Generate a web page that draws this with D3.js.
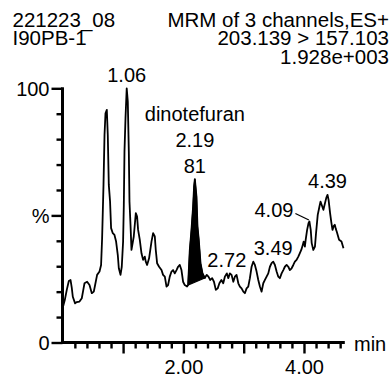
<!DOCTYPE html>
<html>
<head>
<meta charset="utf-8">
<script src="https://cdn.jsdelivr.net/npm/d3@7"></script>
<style>
  html, body { margin: 0; padding: 0; background: #fff; }
  svg { display: block; font-family: "Liberation Sans", Arial, sans-serif; }
  .axis text { font-size: 20px; fill: #000; font-family: "Liberation Sans", Arial, sans-serif; }
</style>
</head>
<body>
<svg id="chart" width="391" height="382"></svg>
<script>
// MRM chromatogram, 203.139 > 157.103 transition (relative intensity, %)
const headerLeft = ["221223_08", "I90PB-1"];
const headerRight = ["MRM of 3 channels,ES+", "203.139 > 157.103", "1.928e+003"];

// retention time (min)
const rt = [
  0.008,0.033,0.066,0.100,0.128,0.149,0.166,0.204,0.232,0.277,
  0.315,0.340,0.360,0.403,0.443,0.481,0.514,0.536,0.569,0.609,
  0.635,0.652,0.675,0.692,0.708,0.730,0.746,0.763,0.784,0.801,
  0.829,0.857,0.884,0.912,0.929,0.957,0.978,1.000,1.012,1.023,
  1.040,1.060,1.078,1.095,1.106,1.123,1.139,1.177,1.211,1.232,
  1.249,1.277,1.305,1.332,1.360,1.376,1.398,1.431,1.471,1.498,
  1.526,1.542,1.564,1.597,1.637,1.663,1.692,1.720,1.746,1.774,
  1.803,1.829,1.857,1.886,1.912,1.940,1.968,1.995,2.023,2.061,
  2.078,2.106,2.134,2.161,2.177,2.190,2.217,2.234,2.255,2.284,2.317,2.355,
  2.386,2.415,2.446,2.477,2.507,2.538,2.569,2.597,2.630,2.661,
  2.688,2.720,2.745,2.771,2.799,2.828,2.854,2.882,2.911,2.937,
  2.965,2.994,3.020,3.048,3.076,3.103,3.131,3.159,3.186,3.214,
  3.242,3.269,3.297,3.325,3.352,3.380,3.408,3.435,3.463,3.490,
  3.518,3.546,3.574,3.600,3.629,3.657,3.683,3.712,3.740,3.766,
  3.795,3.823,3.849,3.877,3.906,3.930,3.955,3.980,3.995,4.015,
  4.028,4.052,4.075,4.090,4.112,4.128,4.155,4.182,4.200,4.228,
  4.255,4.274,4.300,4.322,4.345,4.370,4.390,4.408,4.433,4.453,
  4.473,4.495,4.511,4.528,4.544,4.582,4.622,4.655
];

// relative intensity (%)
const intensity = [
  14.4,16.7,20.7,24.2,24.6,21.5,18.0,15.4,15.9,16.1,
  17.4,20.7,23.3,23.9,22.6,19.4,20.0,22.6,26.6,27.9,
  30.5,41.0,62.0,81.7,90.2,91.5,81.7,62.0,55.4,45.0,
  43.0,42.3,39.7,34.4,29.2,26.6,29.8,39.7,54.1,75.1,
  88.3,100,94.8,75.1,55.4,46.3,36.4,41.7,50.9,49.5,
  44.3,40.4,35.1,32.5,33.8,31.8,30.5,33.1,39.7,43.0,
  41.7,36.4,31.2,29.8,28.5,26.6,25.9,22.0,22.6,25.9,
  27.9,28.5,27.2,28.5,29.8,30.5,28.5,23.9,22.6,22.0,
  22.6,36.4,44.3,53.5,61.3,64.3,57.4,45.6,40.4,31.2,27.2,25.4,
  26.6,25.9,24.6,25.3,23.9,20.7,21.3,23.3,24.6,23.3,
  25.9,27.2,25.3,27.2,26.6,23.9,25.9,26.6,23.3,22.0,
  21.3,20.0,19.4,21.3,22.0,25.3,29.8,31.8,30.5,27.9,
  24.6,22.0,20.0,23.3,24.6,25.9,27.2,29.8,31.2,31.8,
  30.5,27.9,25.9,25.3,27.2,28.5,29.8,30.5,29.8,28.5,
  29.2,30.5,31.8,32.5,33.8,35.1,36.4,38.4,39.7,37.7,
  40.4,44.3,46.9,47.6,44.3,39.1,36.4,37.7,43.0,50.2,
  53.3,55.4,53.7,52.2,54.5,56.9,58.1,56.1,50.9,47.4,
  44.3,45.9,46.3,44.7,43.6,40.4,39.7,37.1
];

// integrated peak
const peakName = "dinotefuran";
const peakRt = 2.19;
const peakArea = "81";
const peakStart = 2.078;
const peakEnd = 2.355;

// other apex labels
const apexLabels = [1.06, 2.72, 3.49, 4.39];
const offsetLabel = 4.09;

// axis ticks
const xMinorTicks = d3.range(0.2, 4.61, 0.2).map(v => +v.toFixed(1));
const xMajorTicks = [1, 2, 3, 4];
const xTickLabels = { 2: "2.00", 4: "4.00" };
const yMinorTicks = [10, 20, 30, 40, 60, 70, 80, 90];
const yMajorTicks = [0, 50, 100];
const yTickLabels = { 0: "0", 50: "%", 100: "100" };

const data = rt.map((t, i) => ({ t, v: intensity[i] }));

const svg = d3.select("#chart");
const x = d3.scaleLinear().domain([0, 4.677]).range([62.8, 344.8]);
const y = d3.scaleLinear().domain([0, 100]).range([342.5, 88.3]);

// header text
const header = svg.append("g").attr("font-size", 20.5).attr("fill", "#000");
headerLeft.forEach((s, i) => {
  header.append("text").attr("x", 12.5).attr("y", 26.7 + i * 18.4).text(s);
});
headerRight.forEach((s, i) => {
  header.append("text").attr("x", 389).attr("y", 26.7 + i * 18.4)
    .attr("text-anchor", "end").text(s);
});

function boldTicks(g) {
  g.selectAll("path.domain").remove();
  g.selectAll(".tick line").style("stroke", "#000").style("stroke-width", "2.4px");
}

// y axis ticks
const yMinor = d3.axisLeft(y).tickValues(yMinorTicks).tickSize(6).tickFormat("").tickSizeOuter(0);
const yMajor = d3.axisLeft(y).tickValues(yMajorTicks).tickSize(11).tickPadding(2)
  .tickFormat(d => yTickLabels[d]).tickSizeOuter(0);
const gy = svg.append("g").attr("class", "axis").attr("transform", "translate(62.5,0)");
gy.call(yMinor);
gy.append("g").attr("class", "axis").call(yMajor);
gy.selectAll("text").attr("dy", "0.36em");
boldTicks(gy);

// x axis ticks
const xMinor = d3.axisBottom(x).tickValues(xMinorTicks.filter(v => !xMajorTicks.includes(v)))
  .tickSize(6).tickFormat("").tickSizeOuter(0);
const xMajor = d3.axisBottom(x).tickValues(xMajorTicks).tickSize(11).tickPadding(6)
  .tickFormat(d => xTickLabels[d] || "").tickSizeOuter(0);
const gx = svg.append("g").attr("class", "axis").attr("transform", "translate(0,342.5)");
gx.call(xMinor);
gx.append("g").attr("class", "axis").call(xMajor);
boldTicks(gx);

// heavy axis rules
const axisW = 3;
svg.append("rect").attr("x", 62.5 - axisW / 2).attr("y", y(100) - 1)
  .attr("width", axisW).attr("height", y(0) - y(100) + 1 + axisW / 2).attr("fill", "#000");
svg.append("rect").attr("x", 62.5 - axisW / 2).attr("y", y(0) - axisW / 2)
  .attr("width", x.range()[1] - 62.5 + axisW / 2).attr("height", axisW).attr("fill", "#000");
svg.append("text").attr("x", 354).attr("y", 350.5).attr("font-size", 20).text("min");

// integrated peak area
const peakPts = data.filter(d => d.t >= peakStart && d.t <= peakEnd);
const lineGen = d3.line().x(d => x(d.t)).y(d => y(d.v));
svg.append("path").attr("d", lineGen(peakPts) + "Z")
  .attr("fill", "#000").attr("stroke", "#000").attr("stroke-width", 1.2);

// trace
svg.append("path").datum(data).attr("d", lineGen)
  .attr("fill", "none").attr("stroke", "#000").attr("stroke-width", 1.8)
  .attr("stroke-linejoin", "round");

const nearest = t => data.reduce((a, b) => Math.abs(b.t - t) < Math.abs(a.t - t) ? b : a);

// apex labels
const lab = svg.append("g").attr("font-size", 20).attr("fill", "#000").attr("text-anchor", "middle");
apexLabels.forEach(t => {
  const p = nearest(t);
  lab.append("text").attr("x", x(p.t)).attr("y", y(p.v) - 6.5).text(t.toFixed(2));
});

// dinotefuran label block
{
  const p = nearest(peakRt);
  const cx = x(p.t), ay = y(p.v);
  [peakName, peakRt.toFixed(2), peakArea].reverse().forEach((s, i) => {
    lab.append("text").attr("x", cx).attr("y", ay - 6 - i * 25.8).text(s);
  });
}

// offset label with leader
{
  const p = nearest(offsetLabel);
  const ax = x(p.t), ay = y(p.v);
  lab.append("text").attr("text-anchor", "end").attr("x", ax - 16).attr("y", ay - 5)
    .text(offsetLabel.toFixed(2));
  svg.append("line").attr("x1", ax - 14).attr("y1", ay - 8).attr("x2", ax - 0.5).attr("y2", ay - 1.5)
    .attr("stroke", "#000").attr("stroke-width", 1.3);
}
</script>
</body>
</html>
